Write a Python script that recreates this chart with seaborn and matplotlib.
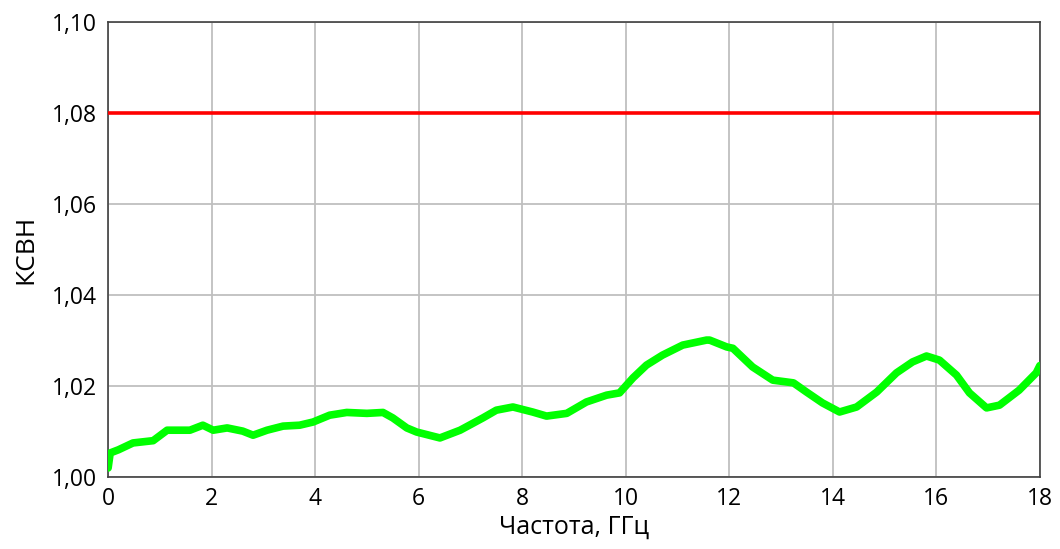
import pandas as pd
import matplotlib
matplotlib.use("Agg")
import matplotlib.pyplot as plt
import seaborn as sns
from matplotlib.ticker import FuncFormatter, MultipleLocator

# Частота, ГГц
freq = [0.0, 0.04, 0.2, 0.48, 0.87, 1.14, 1.58, 1.83, 2.03, 2.3, 2.6, 2.8,
        3.07, 3.38, 3.7, 3.96, 4.28, 4.61, 5.0, 5.31, 5.5, 5.77, 5.96, 6.41,
        6.8, 7.24, 7.5, 7.82, 8.2, 8.47, 8.86, 9.24, 9.63, 9.88, 10.14, 10.4,
        10.71, 11.1, 11.56, 11.62, 11.95, 12.07, 12.45, 12.84, 13.24, 13.49,
        13.8, 14.13, 14.46, 14.85, 15.23, 15.54, 15.81, 16.06, 16.39, 16.64,
        16.97, 17.22, 17.6, 17.93, 18.0]
# КСВН
vswr = [1.0020, 1.0053, 1.0060, 1.0075, 1.0080, 1.0103, 1.0103, 1.0114,
        1.0103, 1.0108, 1.0101, 1.0092, 1.0103, 1.0112, 1.0114, 1.0121,
        1.0136, 1.0142, 1.0140, 1.0142, 1.0130, 1.0108, 1.0099, 1.0086,
        1.0103, 1.0130, 1.0147, 1.0154, 1.0143, 1.0134, 1.0140, 1.0165,
        1.0180, 1.0185, 1.0218, 1.0246, 1.0268, 1.0290, 1.0301, 1.0301,
        1.0286, 1.0283, 1.0242, 1.0213, 1.0207, 1.0187, 1.0163, 1.0143,
        1.0154, 1.0187, 1.0229, 1.0253, 1.0266, 1.0257, 1.0224, 1.0185,
        1.0152, 1.0158, 1.0191, 1.0229, 1.0245]
vswr_limit = 1.08

df = pd.DataFrame({"freq": freq, "vswr": vswr})

sns.set_style("white")
plt.rcParams["font.family"] = ["Open Sans", "DejaVu Sans"]

fig, ax = plt.subplots(figsize=(10.6, 5.49), dpi=100)
fig.subplots_adjust(left=0.102, right=0.981, top=0.960, bottom=0.131)

ax.axhline(vswr_limit, color="#FF0000", lw=2.6, zorder=3)
sns.lineplot(data=df, x="freq", y="vswr", ax=ax, color="#00FF00", lw=5.5,
             zorder=4, solid_capstyle="round", solid_joinstyle="round")

ax.set_xlim(0, 18)
ax.set_ylim(1.00, 1.10)
ax.xaxis.set_major_locator(MultipleLocator(2))
ax.yaxis.set_major_locator(MultipleLocator(0.02))
ax.yaxis.set_major_formatter(FuncFormatter(lambda v, p: f"{v:.2f}".replace(".", ",")))
ax.grid(True, color="#BFBFBF", lw=1.3)
ax.set_axisbelow(True)
for s in ax.spines.values():
    s.set_color("#404040")
    s.set_linewidth(1.2)

ax.tick_params(axis="both", labelsize=16.5, length=0, labelcolor="black")
ax.tick_params(axis="x", pad=7)
ax.tick_params(axis="y", pad=8)
ax.set_xlabel("Частота, ГГц", fontsize=18, labelpad=3, color="black")
ax.set_ylabel("КСВН", fontsize=19, labelpad=10, color="black")

plt.savefig("out.png", dpi=100)
